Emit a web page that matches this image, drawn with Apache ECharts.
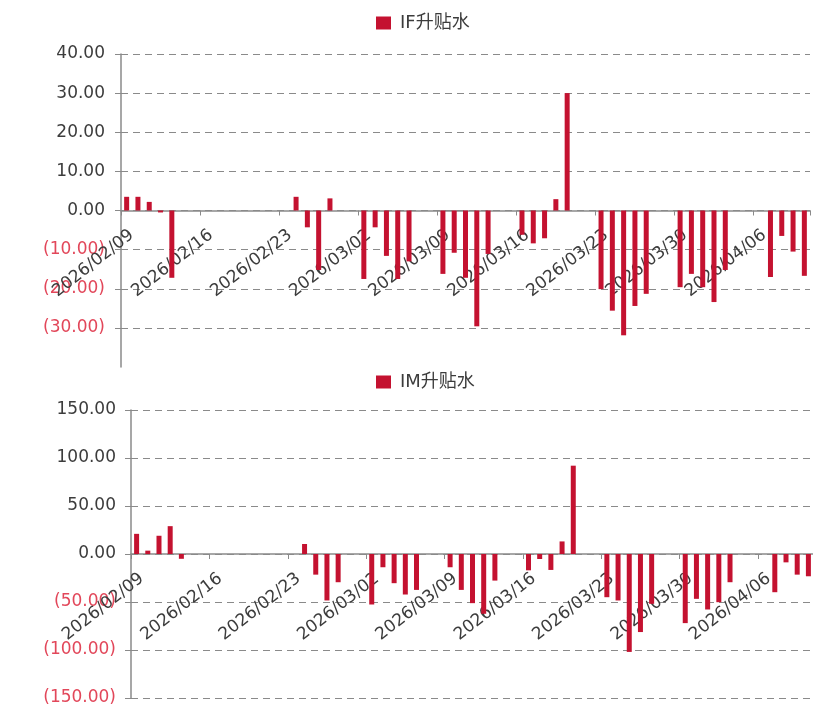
<!DOCTYPE html>
<html>
<head>
<meta charset="utf-8">
<script src="https://cdn.jsdelivr.net/npm/echarts@6/dist/echarts.min.js"></script>
<style>
  html, body { margin: 0; padding: 0; background: #ffffff; }
  #chart { width: 813px; height: 706px; }
</style>
</head>
<body>
<div id="chart"></div>
<script>
// Trading days shown on both panels
const tradeDates = [
  '2026/02/09', '2026/02/10', '2026/02/11', '2026/02/12', '2026/02/13',
  '2026/02/24', '2026/02/25', '2026/02/26', '2026/02/27',
  '2026/03/02', '2026/03/03', '2026/03/04', '2026/03/05', '2026/03/06',
  '2026/03/09', '2026/03/10', '2026/03/11', '2026/03/12', '2026/03/13',
  '2026/03/16', '2026/03/17', '2026/03/18', '2026/03/19', '2026/03/20',
  '2026/03/23', '2026/03/24', '2026/03/25', '2026/03/26', '2026/03/27',
  '2026/03/30', '2026/03/31', '2026/04/01', '2026/04/02', '2026/04/03',
  '2026/04/07', '2026/04/08', '2026/04/09', '2026/04/10'
];

// IF basis (升贴水), index points
const ifBasis = [
  3.5, 3.5, 2.2, -0.5, -17.2,
  3.5, -4.3, -15.2, 3.1,
  -17.5, -4.3, -11.6, -17.5, -13.0,
  -16.2, -10.8, -17.2, -29.6, -11.1,
  -6.2, -8.4, -7.1, 2.9, 30.0,
  -20.1, -25.6, -31.9, -24.4, -21.3,
  -19.6, -16.2, -19.6, -23.4, -15.2,
  -17.0, -6.5, -10.5, -16.7
];

// IM basis (升贴水), index points
const imBasis = [
  21.0, 3.5, 19.0, 29.0, -5.0,
  10.4, -21.5, -48.4, -29.4,
  -52.6, -13.8, -30.4, -42.2, -37.4,
  -13.8, -37.4, -51.2, -62.3, -27.7,
  -17.0, -5.2, -16.6, 13.1, 92.0,
  -45.0, -48.4, -102.0, -81.3, -51.9,
  -72.0, -46.7, -57.8, -50.2, -29.4,
  -39.8, -8.7, -21.5, -23.2
];

// Axis range and tick labels
const axisStart = '2026/02/09';
const axisEnd = '2026/04/10';
const ifTicks = [-40, -30, -20, -10, 0, 10, 20, 30, 40];
const imTicks = [-150, -100, -50, 0, 50, 100, 150];

// Calendar-day categories so weekends and holidays keep their width
function pad(n) { return (n < 10 ? '0' : '') + n; }
function calendarDays(from, to) {
  const out = [];
  const d = new Date(from.replace(/\//g, '-') + 'T00:00:00Z');
  const end = new Date(to.replace(/\//g, '-') + 'T00:00:00Z');
  while (d <= end) {
    out.push(d.getUTCFullYear() + '/' + pad(d.getUTCMonth() + 1) + '/' + pad(d.getUTCDate()));
    d.setUTCDate(d.getUTCDate() + 1);
  }
  return out;
}
const categories = calendarDays(axisStart, axisEnd);
function onCalendar(values) {
  const map = {};
  tradeDates.forEach((t, i) => { map[t] = values[i]; });
  return categories.map(c => (c in map ? map[c] : null));
}

const FONT = '"DejaVu Sans", "Noto Sans CJK SC", sans-serif';
const RED = '#c41230';
const AXIS_GRAY = '#8a8a8a';
const TEXT = '#3c3c3c';
const NEG = '#e2475a';

// Panel frames
const panels = [
  { left: 121, top: 54, width: 689, height: 313, ticks: ifTicks, labelMargin: 16 },
  { left: 131, top: 410, width: 683, height: 288, ticks: imTicks, labelMargin: 15 }
];

function numLabel(v) {
  const s = Math.abs(v).toFixed(2);
  return v < 0 ? '{neg|(' + s + ')}' : '{pos|' + s + '}';
}

// Distance from the panel bottom up to the zero line, so the date axis sits on zero
function zeroOffset(p) {
  const lo = p.ticks[0], hi = p.ticks[p.ticks.length - 1];
  return -p.height * (0 - lo) / (hi - lo);
}

function xAxisFor(i) {
  return {
    type: 'category',
    gridIndex: i,
    data: categories,
    boundaryGap: true,
    position: 'bottom',
    offset: zeroOffset(panels[i]),
    axisLine: { onZero: false, lineStyle: { color: AXIS_GRAY, width: 1.5 } },
    axisTick: { show: true, interval: 6, length: 5, lineStyle: { color: AXIS_GRAY } },
    axisLabel: {
      interval: 6, rotate: 38, margin: 16,
      verticalAlign: 'top',
      fontSize: 17, fontFamily: FONT, color: TEXT
    },
    splitLine: { show: false }
  };
}

function yAxisFor(i) {
  const p = panels[i];
  return {
    type: 'value',
    gridIndex: i,
    min: p.ticks[0],
    max: p.ticks[p.ticks.length - 1],
    interval: p.ticks[1] - p.ticks[0],
    axisLine: { show: true, lineStyle: { color: AXIS_GRAY, width: 1.5 } },
    axisTick: { show: true, length: 6, lineStyle: { color: AXIS_GRAY } },
    splitLine: {
      show: true,
      showMinLine: i === 1,
      lineStyle: { color: AXIS_GRAY, type: [7, 5], width: 1.2 }
    },
    axisLabel: {
      margin: p.labelMargin,
      showMinLabel: i === 1,
      formatter: numLabel,
      rich: {
        pos: { fontSize: 17, fontFamily: FONT, color: TEXT },
        neg: { fontSize: 17, fontFamily: FONT, color: NEG }
      }
    }
  };
}

const legendText = { fontSize: 18, fontFamily: FONT, color: TEXT, padding: [0, 0, 0, 4] };

const chart = echarts.init(document.getElementById('chart'), null, { renderer: 'canvas' });
chart.setOption({
  backgroundColor: '#ffffff',
  animation: false,
  legend: [
    {
      data: ['IF升贴水'], left: 371, top: 9,
      icon: 'rect', itemWidth: 15, itemHeight: 13, textStyle: legendText
    },
    {
      data: ['IM升贴水'], left: 371, top: 368,
      icon: 'rect', itemWidth: 15, itemHeight: 13, textStyle: legendText
    }
  ],
  grid: panels.map(p => ({
    left: p.left, top: p.top, width: p.width, height: p.height,
    containLabel: false, outerBoundsMode: 'none'
  })),
  xAxis: [xAxisFor(0), xAxisFor(1)],
  yAxis: [yAxisFor(0), yAxisFor(1)],
  series: [
    {
      name: 'IF升贴水', type: 'bar', xAxisIndex: 0, yAxisIndex: 0,
      barWidth: 5, itemStyle: { color: RED },
      data: onCalendar(ifBasis)
    },
    {
      name: 'IM升贴水', type: 'bar', xAxisIndex: 1, yAxisIndex: 1,
      barWidth: 5, itemStyle: { color: RED },
      data: onCalendar(imBasis)
    }
  ]
});
</script>
</body>
</html>
